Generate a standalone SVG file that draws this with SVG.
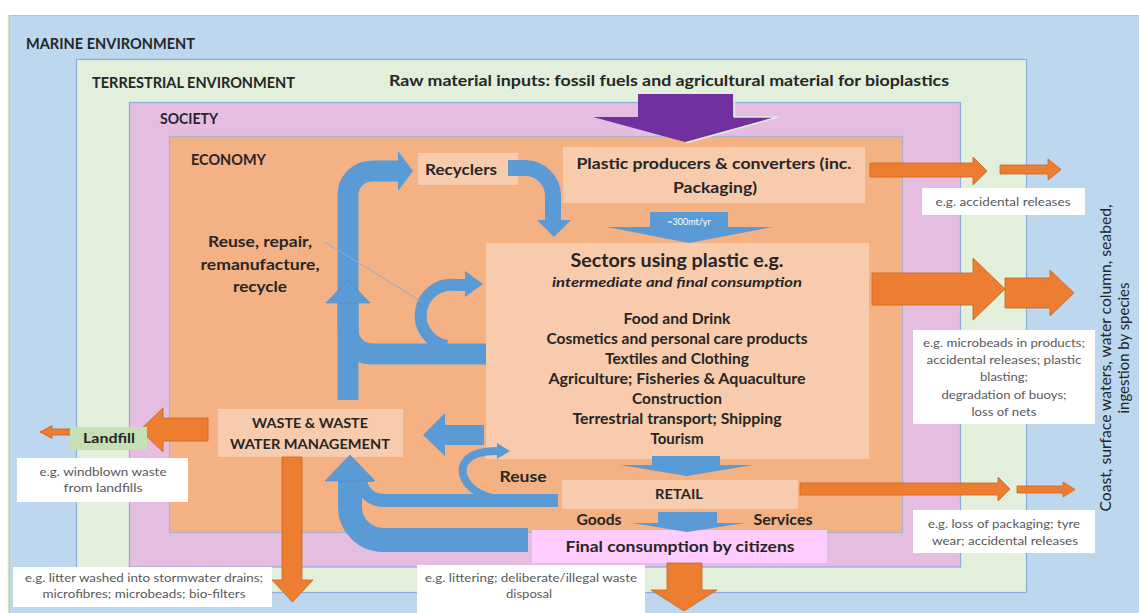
<svg xmlns="http://www.w3.org/2000/svg" width="1139" height="613" viewBox="0 0 1139 613">
<defs>
<style>
  text { font-family: Lato, "Liberation Sans", "DejaVu Sans", sans-serif; }
  .h { font-weight: 700; fill: #262626; }
  .c { text-anchor: middle; }
  .note { font-size: 12px; fill: #595959; text-anchor: middle; }
  .box { fill: #F8CBAD; }
  .wbox { fill: #FFFFFF; }
  .org { fill: #ED7D31; stroke: #C8641E; stroke-width: 0.8; }
  .blu { fill: #5B9BD5; }
  .bls { fill: none; stroke: #5B9BD5; }
</style>
</defs>

<rect x="0" y="0" width="1139" height="613" fill="#FFFFFF"/>

<!-- nested environment regions -->
<g id="marine">
  <rect x="9.5" y="15.5" width="1140" height="610" fill="#BDD7EE" stroke="#A9C4DE" stroke-width="1"/>
  <line x1="8.5" y1="15" x2="8.5" y2="613" stroke="#D4E2BE" stroke-width="1.5"/>
  <text class="h" x="26" y="49" font-size="14.5" textLength="169" lengthAdjust="spacingAndGlyphs">MARINE ENVIRONMENT</text>
</g>
<g id="terrestrial">
  <rect x="76.5" y="59.5" width="950" height="533" fill="#E2EFDA" stroke="#8FAADC" stroke-width="1.2"/>
  <text class="h" x="92" y="88" font-size="14.5" textLength="203" lengthAdjust="spacingAndGlyphs">TERRESTRIAL ENVIRONMENT</text>
</g>
<g id="society">
  <rect x="129.5" y="102.5" width="831" height="464.5" fill="#E5BDE1" stroke="#8FAADC" stroke-width="1.2"/>
  <text class="h" x="160" y="124" font-size="14.5" textLength="58" lengthAdjust="spacingAndGlyphs">SOCIETY</text>
</g>
<g id="economy">
  <rect x="169.5" y="136.5" width="733" height="396" fill="#F4B183" stroke="#A9B3CC" stroke-width="1.2"/>
  <text class="h" x="191" y="165" font-size="14.5" textLength="75" lengthAdjust="spacingAndGlyphs">ECONOMY</text>
</g>

<g id="raw-inputs">
  <text class="h" x="389" y="86" font-size="15.5" textLength="560" lengthAdjust="spacingAndGlyphs">Raw material inputs: fossil fuels and agricultural material for bioplastics</text>
</g>

<!-- process boxes -->
<g id="producers">
  <rect class="box" x="563" y="147" width="302" height="56"/>
  <text class="h c" x="714" y="169" font-size="15.5" textLength="275" lengthAdjust="spacingAndGlyphs">Plastic producers &amp; converters (inc.</text>
  <text class="h c" x="715" y="193" font-size="15.5" textLength="84" lengthAdjust="spacingAndGlyphs">Packaging)</text>
</g>
<g id="recyclers">
  <rect class="box" x="418" y="153" width="100" height="32"/>
  <text class="h c" x="461" y="175" font-size="15.5" textLength="72" lengthAdjust="spacingAndGlyphs">Recyclers</text>
</g>
<g id="sectors">
  <rect class="box" x="486" y="243" width="383" height="216"/>
  <text class="h c" x="677" y="267" font-size="19" textLength="213" lengthAdjust="spacingAndGlyphs">Sectors using plastic e.g.</text>
  <text class="h c" x="677" y="287" font-size="14" font-style="italic" textLength="250" lengthAdjust="spacingAndGlyphs">intermediate and final consumption</text>
  <text class="h c" x="677" y="324" font-size="14.5" textLength="107" lengthAdjust="spacingAndGlyphs">Food and Drink</text>
  <text class="h c" x="677" y="344" font-size="14.5" textLength="261" lengthAdjust="spacingAndGlyphs">Cosmetics and personal care products</text>
  <text class="h c" x="677" y="364" font-size="14.5" textLength="144" lengthAdjust="spacingAndGlyphs">Textiles and Clothing</text>
  <text class="h c" x="677" y="384" font-size="14.5" textLength="257" lengthAdjust="spacingAndGlyphs">Agriculture; Fisheries  &amp; Aquaculture</text>
  <text class="h c" x="677" y="404" font-size="14.5" textLength="90" lengthAdjust="spacingAndGlyphs">Construction</text>
  <text class="h c" x="677" y="424" font-size="14.5" textLength="209" lengthAdjust="spacingAndGlyphs">Terrestrial transport; Shipping</text>
  <text class="h c" x="677" y="444" font-size="14.5" textLength="53" lengthAdjust="spacingAndGlyphs">Tourism</text>
</g>
<g id="reuse-repair">
  <text class="h c" x="260" y="247" font-size="15.5" textLength="104" lengthAdjust="spacingAndGlyphs">Reuse, repair,</text>
  <text class="h c" x="260" y="270" font-size="15.5" textLength="119" lengthAdjust="spacingAndGlyphs">remanufacture,</text>
  <text class="h c" x="260" y="292" font-size="15.5" textLength="54" lengthAdjust="spacingAndGlyphs">recycle</text>
</g>
<g id="waste">
  <rect class="box" x="218" y="409" width="185" height="48"/>
  <text class="h c" x="310" y="428" font-size="14" textLength="116" lengthAdjust="spacingAndGlyphs">WASTE &amp; WASTE</text>
  <text class="h c" x="310" y="449" font-size="14" textLength="160" lengthAdjust="spacingAndGlyphs">WATER MANAGEMENT</text>
</g>
<g id="retail">
  <rect class="box" x="562" y="480" width="236" height="29"/>
  <text class="h c" x="679" y="499" font-size="14" textLength="48" lengthAdjust="spacingAndGlyphs">RETAIL</text>
</g>
<g id="final-consumption">
  <rect x="532" y="530" width="295" height="33" fill="#FFCCFF"/>
  <text class="h c" x="680" y="552" font-size="16" textLength="229" lengthAdjust="spacingAndGlyphs">Final consumption  by citizens</text>
</g>
<g id="reuse">
  <text class="h c" x="523" y="482" font-size="15.5" textLength="47" lengthAdjust="spacingAndGlyphs">Reuse</text>
</g>
<g id="goods-services">
  <text class="h c" x="599" y="525" font-size="14.5" textLength="45" lengthAdjust="spacingAndGlyphs">Goods</text>
  <text class="h c" x="783" y="525" font-size="14.5" textLength="59" lengthAdjust="spacingAndGlyphs">Services</text>
</g>

<!-- flows -->
<g id="connectors">
  <!-- raw material input -->
  <polygon points="638,94 733,94 733,117 777,117 685,142 593,117 638,117" fill="#7030A0"/>
  <polyline points="734.5,94 734.5,117 778,117 686,143" fill="none" stroke="#DDEBD8" stroke-width="1.5"/>

  <!-- releases to the environment (orange) -->
  <polygon class="org" points="870,163 973,163 973,157 987,171 973,185 973,177 870,177"/>
  <polygon class="org" points="1000,165 1048,165 1048,159 1061,169.5 1048,180 1048,174 1000,174"/>
  <polygon class="org" points="872,273 973,273 973,258 1005,289 973,320 973,305 872,305"/>
  <polygon class="org" points="1005,278 1050,278 1050,270 1074,293 1050,316 1050,308 1005,308"/>
  <polygon class="org" points="800,483 998,483 998,477 1010,489 998,501 998,495 800,495"/>
  <polygon class="org" points="1017,486 1063,486 1063,482 1075,489.5 1063,497 1063,493 1017,493"/>
  <polygon class="org" points="208,418 163,418 163,408 140,430 163,452 163,441 208,441"/>
  <polygon class="org" points="74,429 52,429 52,425.5 40,432 52,438.5 52,435 74,435"/>
  <polygon class="org" points="282,457 302,457 302,580 313,580 292.5,602 272,580 282,580"/>
  <polygon class="org" points="667,563 702,563 702,590 717,590 684,611 651,590 667,590"/>

  <!-- material flows (blue) -->
  <polygon class="blu" points="650,212 728,212 728,227 773,227 689,243 607,227 650,227"/>
  <text x="689" y="225" font-size="9" fill="#FFFFFF" text-anchor="middle">~300mt/yr</text>
  <polygon class="blu" points="652,456 720,456 720,465 753,465 687,476 620,465 652,465"/>
  <polygon class="blu" points="658,512 717,512 717,523 745,523 687,532 632,523 658,523"/>
  <polygon class="blu" points="484,425 445,425 445,413 423,435 445,456 445,445 484,445"/>

  <path class="bls" stroke-width="16" d="M508,168 H525 A28 28 0 0 1 553,196 V221"/>
  <polygon class="blu" points="537,220 571,220 554,237"/>

  <path class="bls" stroke-width="21" d="M486,354 H372 A24 24 0 0 1 348,330 V195 A24 24 0 0 1 372,171 H399"/>
  <polygon class="blu" points="398,151 413,171 398,191"/>
  <rect class="blu" x="337.5" y="302" width="21" height="98"/>
  <polygon class="blu" points="326,303 348,280 370,303" stroke="#4F8CC8" stroke-width="0.6"/>

  <path class="bls" stroke-width="12" d="M447,346 A29 29 0 0 1 456,285 H467"/>
  <polygon class="blu" points="465,271 483,284 465,297"/>

  <path class="bls" stroke-width="13" d="M558,500.5 H385 A24 20 0 0 1 361,480.5"/>
  <polygon class="blu" points="349,482 361,467 373,482"/>
  <path class="bls" stroke-width="8" d="M508,499 C472,500 455,475 466,461 C472,453 484,451 498,451"/>
  <polygon class="blu" points="497,443 510,451 497,459"/>

  <path class="bls" stroke-width="24" d="M528,540 H383 A33 33 0 0 1 350,507 V480"/>
  <polygon class="blu" points="325,481 350,455 375,481" stroke="#4F8CC8" stroke-width="0.6"/>

  <!-- label leader -->
  <line x1="325" y1="242" x2="422" y2="302" stroke="#8FAADC" stroke-width="1"/>
</g>

<g id="landfill">
  <rect x="70" y="427" width="77" height="23" fill="#C5E0B4"/>
  <text class="h c" x="109" y="443" font-size="14" textLength="52" lengthAdjust="spacingAndGlyphs">Landfill</text>
</g>

<!-- example notes -->
<g id="note-producers">
  <rect class="wbox" x="922" y="188" width="163" height="27"/>
  <text class="note" x="1003" y="206" textLength="135" lengthAdjust="spacingAndGlyphs">e.g. accidental releases</text>
</g>
<g id="note-sectors">
  <rect class="wbox" x="913" y="330" width="182" height="94"/>
  <text class="note" x="1004" y="347" textLength="162" lengthAdjust="spacingAndGlyphs">e.g. microbeads  in products;</text>
  <text class="note" x="1004" y="364" textLength="155" lengthAdjust="spacingAndGlyphs">accidental releases; plastic</text>
  <text class="note" x="1004" y="381" textLength="48" lengthAdjust="spacingAndGlyphs">blasting;</text>
  <text class="note" x="1004" y="399" textLength="125" lengthAdjust="spacingAndGlyphs">degradation of buoys;</text>
  <text class="note" x="1004" y="416" textLength="65" lengthAdjust="spacingAndGlyphs">loss of nets</text>
</g>
<g id="note-retail">
  <rect class="wbox" x="913" y="510" width="182" height="43"/>
  <text class="note" x="1004" y="528" textLength="152" lengthAdjust="spacingAndGlyphs">e.g. loss of packaging; tyre</text>
  <text class="note" x="1005" y="545" textLength="146" lengthAdjust="spacingAndGlyphs">wear; accidental releases</text>
</g>
<g id="note-landfill">
  <rect class="wbox" x="17" y="458" width="171" height="44"/>
  <text class="note" x="103" y="476" textLength="127" lengthAdjust="spacingAndGlyphs">e.g. windblown  waste</text>
  <text class="note" x="103" y="492" textLength="79" lengthAdjust="spacingAndGlyphs">from landfills</text>
</g>
<g id="note-waste">
  <rect class="wbox" x="13" y="567" width="259" height="40"/>
  <text class="note" x="144" y="582" textLength="238" lengthAdjust="spacingAndGlyphs">e.g. litter washed into stormwater drains;</text>
  <text class="note" x="144" y="598" textLength="203" lengthAdjust="spacingAndGlyphs">microfibres; microbeads; bio-filters</text>
</g>
<g id="note-citizens">
  <rect class="wbox" x="417" y="565" width="228" height="50"/>
  <text class="note" x="531" y="582" textLength="212" lengthAdjust="spacingAndGlyphs">e.g. littering; deliberate/illegal waste</text>
  <text class="note" x="529" y="598" textLength="46" lengthAdjust="spacingAndGlyphs">disposal</text>
</g>

<g id="marine-fate">
  <text transform="translate(1111,358) rotate(-90)" x="0" y="0" font-size="15" fill="#262626" text-anchor="middle" textLength="307" lengthAdjust="spacingAndGlyphs">Coast, surface waters, water column, seabed,</text>
  <text transform="translate(1129,348) rotate(-90)" x="0" y="0" font-size="15" fill="#262626" text-anchor="middle" textLength="131" lengthAdjust="spacingAndGlyphs">ingestion by species</text>
</g>
</svg>
